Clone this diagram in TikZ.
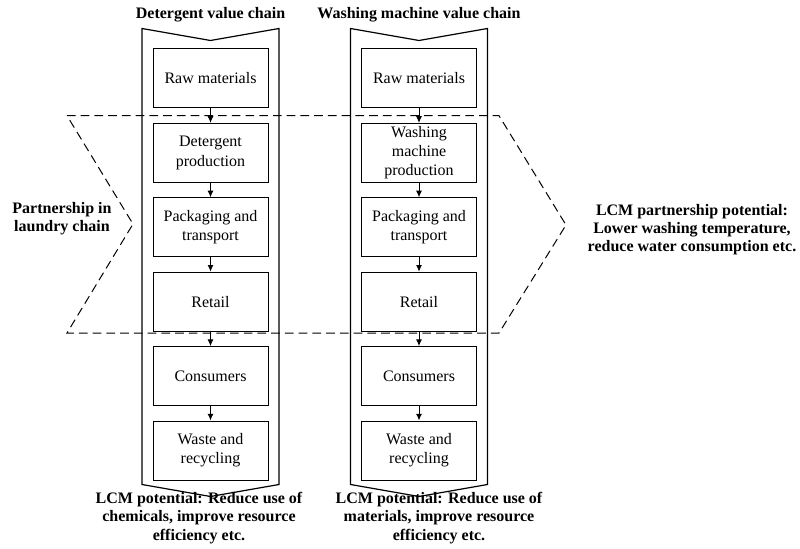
\documentclass[tikz,border=0pt]{standalone}
\usepackage{fontspec}
\setmainfont{Liberation Serif}
\usetikzlibrary{arrows.meta, positioning, calc}
\tikzset{
  stage/.style={rectangle,draw=black,line width=0.75pt,minimum width=86.25pt,minimum height=44.25pt,inner sep=1pt,align=center,font=\fontsize{12}{14.4}\selectfont},
  flow/.style={-{Latex[length=5pt,width=4.5pt]},line width=0.75pt},
  chainline/.style={draw=black,line width=0.9pt,line join=miter},
  partner/.style={draw=black,line width=0.75pt,dash pattern=on 6.5pt off 3.8pt},
  heading/.style={font=\bfseries\fontsize{12}{13.6}\selectfont,align=center,inner sep=0pt},
}
\begin{document}
\begin{tikzpicture}[x=0.75pt,y=-0.75pt,node distance=10.8pt]
	    \useasboundingbox (0,0) rectangle (800,549);
	    % detergent chain
	    \node[stage] (d1) at (210.5,78.5) {Raw materials};
	    \node[stage,below=of d1] (d2) {Detergent\\production};
	    \node[stage,below=of d2] (d3) {Packaging and\\transport};
	    \node[stage,below=of d3] (d4) {Retail};
	    \node[stage,below=of d4] (d5) {Consumers};
	    \node[stage,below=of d5] (d6) {Waste and\\recycling};
	    % washing machine chain
	    \node[stage] (w1) at (419,78.5) {Raw materials};
	    \node[stage,below=of w1] (w2) {Washing\\machine\\production};
	    \node[stage,below=of w2] (w3) {Packaging and\\transport};
	    \node[stage,below=of w3] (w4) {Retail};
	    \node[stage,below=of w4] (w5) {Consumers};
	    \node[stage,below=of w5] (w6) {Waste and\\recycling};
	    \foreach \c in {d,w} {
	      \foreach \i [evaluate=\i as \j using int(\i+1)] in {1,...,5}
	        \draw[flow] (\c\i) -- (\c\j);
	      \draw[chainline] ($(\c1.north west)+(-10.5,-20)$) -- ($(\c1.north)+(0,-8)$) -- ($(\c1.north east)+(10.5,-20)$)
	        -- ($(\c6.south east)+(10.5,4)$) -- ($(\c6.south)+(0,16)$) -- ($(\c6.south west)+(-10.5,4)$) -- cycle;
	    }
	    % partnership
	    \draw[partner] (67,115.7) -- (499,115.7) -- (566,225) -- (499,333) -- (67,333) -- (133,224) -- cycle;
	    \node[heading] (dtitle) at (210.5,15) {Detergent value chain};
	    \node[heading] (wtitle) at (419,15) {Washing machine value chain};
	    \node[heading] (dpot) at (199,518) {LCM potential: Reduce use of\\chemicals, improve resource\\efficiency etc.};
	    \node[heading] (wpot) at (439,518) {LCM potential: Reduce use of\\materials, improve resource\\efficiency etc.};
	    \node[heading] (ptext) at (62,219) {Partnership in\\laundry chain};
	    \node[heading] (ppot) at (692,230) {LCM partnership potential:\\Lower washing temperature,\\reduce water consumption etc.};
	\end{tikzpicture}
\end{document}
